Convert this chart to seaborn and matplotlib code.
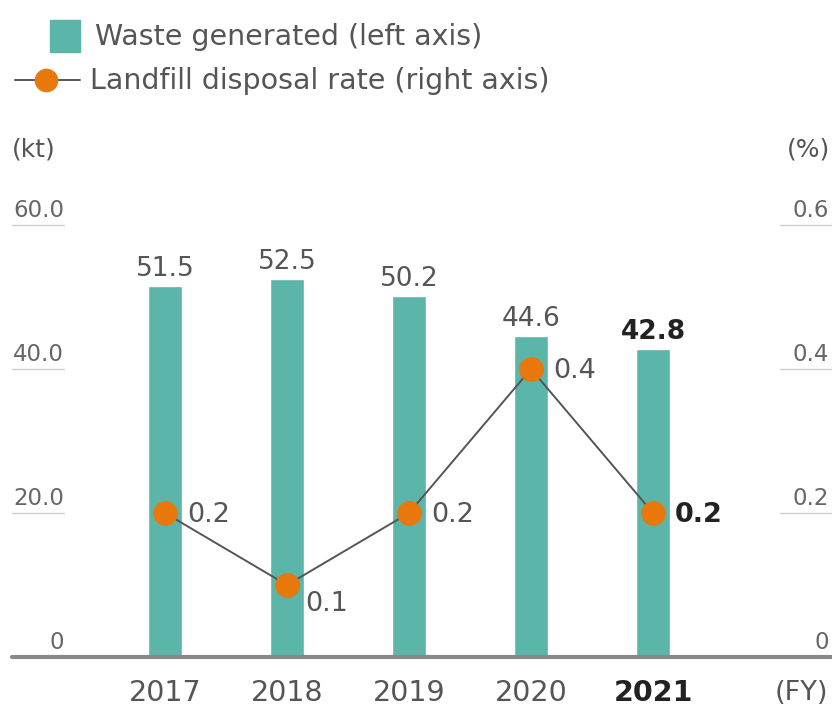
import matplotlib
matplotlib.use("Agg")
import matplotlib.pyplot as plt
import seaborn as sns
import numpy as np
import pandas as pd

years = ["2017", "2018", "2019", "2020", "2021"]
waste = [51.5, 52.5, 50.2, 44.6, 42.8]
rate = [0.2, 0.1, 0.2, 0.4, 0.2]
left_ticks = [0, 20, 40, 60]
left_labels = ["0", "20.0", "40.0", "60.0"]
right_ticks = [0, 0.2, 0.4, 0.6]
right_labels = ["0", "0.2", "0.4", "0.6"]

sns.set_style("white")
plt.rcParams['font.family'] = ['DejaVu Sans']

TEAL = "#5BB5A8"
ORANGE = "#E8780C"
GRAY = "#555555"
DARK = "#222222"
TXT = "#555555"

W, H = 832, 706
fig = plt.figure(figsize=(W / 100, H / 100), dpi=100)

def fx(px):
    return px / W

def fy(py):
    return 1 - py / H

ax_left, ax_right = 12, 832
ax_bot, ax_top = 657, 225
ax = fig.add_axes([fx(ax_left), fy(ax_bot), fx(ax_right - ax_left), fy(ax_top) - fy(ax_bot)])

df = pd.DataFrame({"year": years, "waste": waste})
sns.barplot(data=df, x="year", y="waste", color=TEAL, width=0.28, saturation=1, ax=ax)

step = 122.0
c0 = 165.0
ax.set_xlim((ax_left - c0) / step, (ax_right - c0) / step)
ax.set_ylim(0, 60)
ax.set_xlabel("")
ax.set_ylabel("")
ax.set_yticks([])
ax.set_xticks([])
for s in ax.spines.values():
    s.set_visible(False)

ax2 = ax.twinx()
ax2.set_ylim(0, 0.6)
ax2.set_xlim(ax.get_xlim())
sns.lineplot(x=np.arange(len(years)), y=rate, ax=ax2, color=GRAY, linewidth=1.4,
             marker="o", markersize=17, markerfacecolor=ORANGE, markeredgecolor=ORANGE, zorder=5)
ax2.set_yticks([])
ax2.set_xticks([])
for s in ax2.spines.values():
    s.set_visible(False)

# baseline
fig.add_artist(plt.Line2D([fx(12), fx(832)], [fy(657), fy(657)], color="#888888", lw=3))

# tick labels with underlines
ypx = lambda v: ax_bot - v * ((ax_bot - ax_top) / 60.0)
for v, lab in zip(left_ticks, left_labels):
    y = ypx(v)
    fig.text(fx(64), fy(y - 8), lab, ha="right", va="baseline", fontsize=16.5, color="#666666")
    if v != 0:
        fig.add_artist(plt.Line2D([fx(12), fx(64)], [fy(y), fy(y)], color="#cccccc", lw=1))
for v, lab in zip(right_ticks, right_labels):
    y = ypx(v * 100)
    fig.text(fx(829), fy(y - 8), lab, ha="right", va="baseline", fontsize=16.5, color="#666666")
    if v != 0:
        fig.add_artist(plt.Line2D([fx(780), fx(832)], [fy(y), fy(y)], color="#cccccc", lw=1))

fig.text(fx(12), fy(156), "(kt)", ha="left", va="baseline", fontsize=18, color=TXT)
fig.text(fx(830), fy(156), "(%)", ha="right", va="baseline", fontsize=18, color=TXT)
fig.text(fx(828), fy(700), "(FY)", ha="right", va="baseline", fontsize=19.5, color=TXT)

# year labels
for i, yr in enumerate(years):
    last = i == len(years) - 1
    ax.annotate(yr, xy=(i, 0), xycoords=("data", "axes fraction"), xytext=(0, -44),
                textcoords="offset pixels", ha="center", va="baseline", fontsize=20.5,
                color=DARK if last else TXT, fontweight="bold" if last else "normal")

# bar value labels
for i, v in enumerate(waste):
    last = i == len(years) - 1
    ax.annotate(f"{v:.1f}", xy=(i, v), xytext=(0, 10), textcoords="offset pixels",
                ha="center", va="baseline", fontsize=19,
                color=DARK if last else TXT, fontweight="bold" if last else "normal")

# line value labels
offsets = [(22, -9), (18, -26), (22, -9), (22, -9), (22, -9)]
for i, v in enumerate(rate):
    last = i == len(years) - 1
    dx, dy = offsets[i]
    ax2.annotate(f"{v:.1f}", xy=(i, v), xytext=(dx, dy), textcoords="offset pixels",
                 ha="left", va="baseline", fontsize=19.5,
                 color=DARK if last else TXT, fontweight="bold" if last else "normal")

# legend
fig.add_artist(plt.Rectangle((fx(50), fy(52)), fx(30), fy(20) - fy(52), color=TEAL))
fig.text(fx(95), fy(45), "Waste generated (left axis)", ha="left", va="baseline",
         fontsize=20.5, color=TXT)
fig.add_artist(plt.Line2D([fx(15), fx(80)], [fy(80), fy(80)], color=GRAY, lw=1.4))
fig.add_artist(plt.Line2D([fx(46)], [fy(80)], marker="o", markersize=16, color=ORANGE))
fig.text(fx(90), fy(89), "Landfill disposal rate (right axis)", ha="left", va="baseline",
         fontsize=20.5, color=TXT)

fig.savefig("out.png", dpi=100)
